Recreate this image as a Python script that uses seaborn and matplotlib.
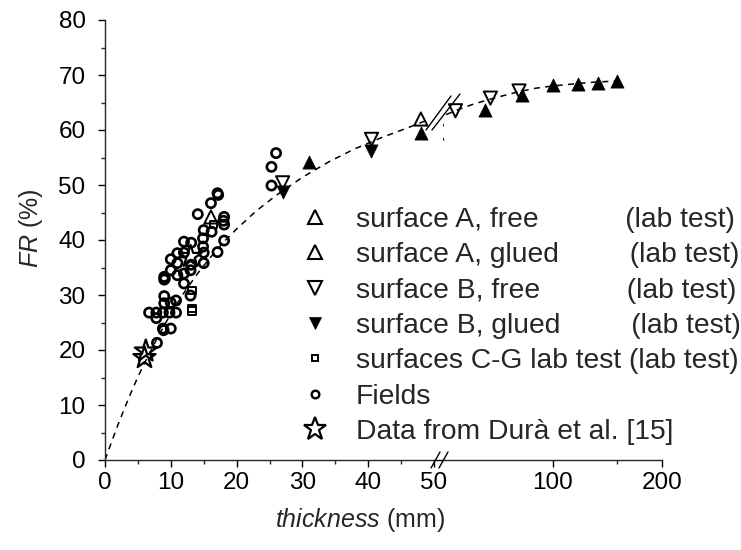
import numpy as np
import pandas as pd
import matplotlib
matplotlib.use("Agg")
import matplotlib.pyplot as plt
from matplotlib.lines import Line2D
from matplotlib.ticker import FixedLocator, NullFormatter, NullLocator, FixedFormatter
import seaborn as sns

# ---------------- data ----------------
fields_x = [26.0, 25.3, 25.3, 17.1, 17.2, 16.1, 14.1, 18.1, 18.0, 18.1, 15.0, 16.2, 14.9, 18.1,
            12.0, 13.1, 14.9, 11.0, 12.0, 15.0, 17.1, 10.0, 11.0, 13.1, 15.0, 10.0, 11.0,
            12.0, 13.0, 9.0, 9.1, 9.0, 12.0, 13.0, 9.0, 9.0, 10.0, 10.8, 6.7, 7.8, 8.8, 9.8,
            10.8, 7.8, 8.8, 8.9, 10.0, 7.9]
fields_y = [55.8, 53.3, 49.9, 48.5, 48.2, 46.7, 44.7, 44.2, 43.5, 42.8, 41.8, 41.5, 40.3, 39.9,
            39.7, 39.5, 38.8, 37.6, 37.7, 37.7, 37.8, 36.5, 35.8, 35.5, 35.8, 34.5, 33.6,
            33.9, 34.5, 33.3, 33.0, 32.8, 32.1, 29.9, 29.8, 28.5, 28.6, 29.0, 26.8, 26.8, 26.8, 26.8,
            26.8, 25.8, 23.9, 23.6, 23.9, 21.3]

a_free_x = [16.1, 48.0]
a_free_y = [44.2, 62.0]
a_glued_x = [31.0, 48.0, 65.1, 82.7, 100.0, 117.2, 133.5, 150.6]
a_glued_y = [54.2, 59.5, 63.6, 66.4, 68.2, 68.3, 68.5, 69.0]
b_free_x = [27.0, 40.5, 54.1, 67.5, 80.9]
b_free_y = [50.4, 58.3, 63.5, 65.8, 67.1]
b_glued_x = [27.0, 40.5]
b_glued_y = [48.8, 56.1]
cg_x = [13.2, 13.2, 13.2, 16.5]
cg_y = [30.8, 27.6, 27.1, 42.8]
dura_x = [6.2, 6.0, 13.0]
dura_y = [19.8, 18.6, 37.0]

curve_lin_x = [0, 1, 2, 3, 4, 5, 6, 8, 10, 12, 14, 16, 18, 20, 23, 26, 30, 34, 38, 42, 46, 49]
curve_lin_y = [0, 3.3, 6.5, 9.5, 12.4, 15.1, 17.6, 22.3, 26.6, 30.4, 33.8, 36.8, 39.6, 42.0,
               45.3, 48.1, 51.4, 54.2, 56.6, 58.6, 60.4, 61.8]
curve_log_x = [51, 55, 60, 65, 70, 80, 90, 100, 115, 130, 150]
curve_log_y = [62.8, 63.7, 64.6, 65.3, 65.9, 66.9, 67.6, 68.0, 68.4, 68.7, 68.9]

x_ticks_lin = [0, 10, 20, 30, 40, 50]
x_ticks_log = [100, 200]
y_ticks = [0, 10, 20, 30, 40, 50, 60, 70, 80]

legend_labels = [
    "surface A, free           (lab test)",
    "surface A, glued         (lab test)",
    "surface B, free           (lab test)",
    "surface B, glued         (lab test)",
    "surfaces C-G lab test (lab test)",
    "Fields",
    "Data from Durà et al. [15]",
]

# ---------------- style ----------------
sns.set_style("ticks")
plt.rcParams['font.family'] = ['Liberation Sans', 'DejaVu Sans']
plt.rcParams['mathtext.fontset'] = 'custom'
plt.rcParams['mathtext.rm'] = 'Liberation Sans'
plt.rcParams['mathtext.it'] = 'Liberation Sans:italic'

W, H = 741, 550
fig = plt.figure(figsize=(W / 100, H / 100), dpi=100)

def fx(px):
    return px / W

def fy(py):
    return 1 - py / H

x0, x1, x2, x3 = 105, 434, 443, 662
ytop, ybot = 20, 460
ax1 = fig.add_axes([fx(x0), fy(ybot), (x1 - x0) / W, (ybot - ytop) / H])
ax2 = fig.add_axes([fx(x2), fy(ybot), (x3 - x2) / W, (ybot - ytop) / H])

K = "black"
open_kw = dict(facecolor="none", edgecolor=K, legend=False)

for ax in (ax1, ax2):
    sns.scatterplot(x=fields_x, y=fields_y, marker="o", s=44, linewidth=1.9, ax=ax, **open_kw)
    sns.scatterplot(x=cg_x, y=cg_y, marker="s", s=28, linewidth=1.4, ax=ax, **open_kw)
    sns.scatterplot(x=dura_x, y=dura_y, marker="*", s=280, linewidth=1.6, ax=ax, **open_kw)
    sns.scatterplot(x=a_free_x, y=a_free_y, marker="^", s=90, linewidth=1.4, ax=ax, **open_kw)
    sns.scatterplot(x=b_free_x, y=b_free_y, marker="v", s=90, linewidth=1.4, ax=ax, **open_kw)
    sns.scatterplot(x=a_glued_x, y=a_glued_y, marker="^", s=90, color=K, edgecolor=K,
                    linewidth=0.5, legend=False, ax=ax)
    sns.scatterplot(x=b_glued_x, y=b_glued_y, marker="v", s=90, color=K, edgecolor=K,
                    linewidth=0.5, legend=False, ax=ax)

sns.lineplot(x=curve_lin_x, y=curve_lin_y, ax=ax1, color=K, lw=1.1, dashes=(4, 3.5),
             sort=False, estimator=None)
sns.lineplot(x=curve_log_x, y=curve_log_y, ax=ax2, color=K, lw=1.1, dashes=(4, 3.5),
             sort=False, estimator=None)

# axes setup
ax1.set_xlim(0, 50)
ax1.set_ylim(0, 80)
ax2.set_xscale("log")
ax2.set_xlim(50, 200)
ax2.set_ylim(0, 80)

for ax in (ax1, ax2):
    ax.spines["top"].set_visible(False)
    ax.spines["right"].set_visible(False)
    for s in ax.spines.values():
        s.set_linewidth(1.0)
    ax.set_xlabel("")
    ax.set_ylabel("")
    ax.patch.set_alpha(0)

ax2.spines["left"].set_visible(False)

ax1.xaxis.set_major_locator(FixedLocator(x_ticks_lin))
ax1.xaxis.set_minor_locator(FixedLocator([5, 15, 25, 35, 45]))
ax1.yaxis.set_major_locator(FixedLocator(y_ticks))
ax1.yaxis.set_minor_locator(FixedLocator([5, 15, 25, 35, 45, 55, 65, 75]))
ax2.xaxis.set_major_locator(FixedLocator(x_ticks_log))
ax2.xaxis.set_major_formatter(FixedFormatter([str(t) for t in x_ticks_log]))
ax2.xaxis.set_minor_locator(FixedLocator([150]))
ax2.xaxis.set_minor_formatter(NullFormatter())
ax2.yaxis.set_major_locator(NullLocator())
ax2.yaxis.set_minor_locator(NullLocator())
ax2.tick_params(axis="y", left=False, labelleft=False)

for ax in (ax1, ax2):
    ax.tick_params(axis="both", which="major", direction="out", length=5, width=1.0,
                   labelsize=17.5, colors=K)
    ax.tick_params(axis="both", which="minor", direction="out", length=3, width=1.0)
    ax.tick_params(axis="x", which="major", pad=3.5)
ax1.tick_params(axis="y", which="major", pad=9)

# bottom line across the gap and break marks
def fline(xs, ys, lw=1.0):
    fig.add_artist(Line2D([fx(v) for v in xs], [fy(v) for v in ys], color=K, lw=lw,
                          transform=fig.transFigure))

fline([x1, x2], [ybot, ybot])
fline([431, 440], [468, 452])
fline([439, 448], [468, 452])
# break marks on the curve
fline([426, 451], [130, 96])
fline([432, 460], [130, 94])

# labels
fig.text(fx(360), fy(520), r"$\mathit{thickness}$ (mm)", ha="center", va="center", fontsize=18)
fig.text(fx(31), fy(228), r"$\mathit{FR}$ (%)", ha="center", va="center", rotation=90, fontsize=18)

# legend
handles = [
    Line2D([], [], ls="none", marker="^", ms=10.5, mfc="white", mec=K, mew=1.5),
    Line2D([], [], ls="none", marker="^", ms=10.5, mfc="white", mec=K, mew=1.5),
    Line2D([], [], ls="none", marker="v", ms=10.5, mfc="white", mec=K, mew=1.5),
    Line2D([], [], ls="none", marker="v", ms=9, mfc=K, mec=K, mew=0.5),
    Line2D([], [], ls="none", marker="s", ms=5, mfc="white", mec=K, mew=1.4),
    Line2D([], [], ls="none", marker="o", ms=5.5, mfc="white", mec=K, mew=1.7),
    Line2D([], [], ls="none", marker="*", ms=17, mfc="white", mec=K, mew=1.6),
]
fig.legend(handles, legend_labels, loc="upper left", bbox_to_anchor=(fx(298), fy(207)),
           bbox_transform=fig.transFigure, frameon=False, fontsize=20.3, handlelength=1.2,
           handletextpad=0.85, labelspacing=0.33, borderpad=0, borderaxespad=0)

fig.savefig("out.png", dpi=100)
